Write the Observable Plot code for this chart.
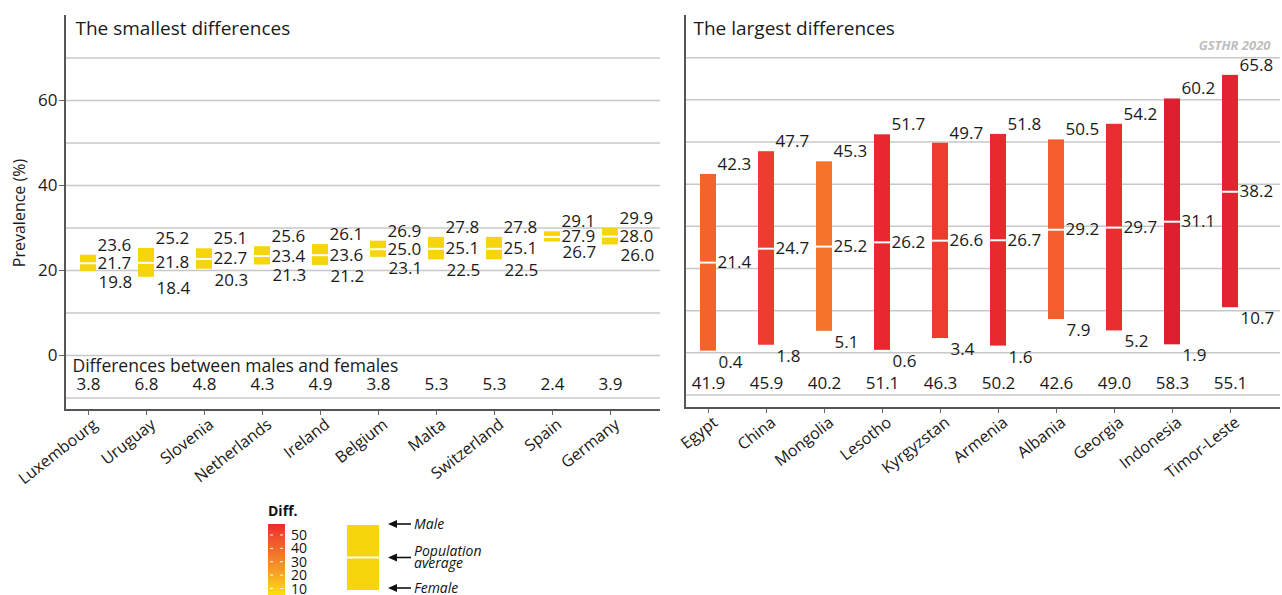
<!DOCTYPE html>
<html><head><meta charset="utf-8">
<script src="https://cdn.jsdelivr.net/npm/d3@7"></script>
<script src="https://cdn.jsdelivr.net/npm/@observablehq/plot@0.6"></script>
<style>
body{margin:0;background:#fff;font-family:"Open Sans",sans-serif;}
#root{position:relative;width:1282px;height:595px;overflow:hidden;background:#fff;}
#left,#right{position:absolute;top:0;}
#left{left:0px}
#right{left:660px}
#legend{position:absolute;left:0;top:0;}
</style></head><body>
<div id="root"><div id="left"></div><div id="right"></div><svg id="legend" width="1282" height="595"></svg></div>
<script>
// ---- data ----
const smallCountries = ["Luxembourg","Uruguay","Slovenia","Netherlands","Ireland","Belgium","Malta","Switzerland","Spain","Germany"];
const smallMale   = [23.6,25.2,25.1,25.6,26.1,26.9,27.8,27.8,29.1,29.9];
const smallAvg    = [21.7,21.8,22.7,23.4,23.6,25.0,25.1,25.1,27.9,28.0];
const smallFemale = [19.8,18.4,20.3,21.3,21.2,23.1,22.5,22.5,26.7,26.0];
const smallDiff   = [3.8,6.8,4.8,4.3,4.9,3.8,5.3,5.3,2.4,3.9];

const largeCountries = ["Egypt","China","Mongolia","Lesotho","Kyrgyzstan","Armenia","Albania","Georgia","Indonesia","Timor-Leste"];
const largeMale   = [42.3,47.7,45.3,51.7,49.7,51.8,50.5,54.2,60.2,65.8];
const largeAvg    = [21.4,24.7,25.2,26.2,26.6,26.7,29.2,29.7,31.1,38.2];
const largeFemale = [0.4,1.8,5.1,0.6,3.4,1.6,7.9,5.2,1.9,10.7];
const largeDiff   = [41.9,45.9,40.2,51.1,46.3,50.2,42.6,49.0,58.3,55.1];

const gridTicks  = [-10,0,10,20,30,40,50,60,70];
const labelTicks = [0,20,40,60];
const legendTicks = [10,20,30,40,50];

// ---- helpers ----
const fmt = d3.format(".1f");
function table(countries, male, avg, female, diff) {
  return countries.map((c,i)=>({country:c, male:male[i], avg:avg[i], female:female[i], diff:diff[i]}));
}
const colorOpts = {
  type:"linear",
  domain:[7,40.2,42.6,46,49,51,55,58.3],
  range:["#F6D50C","#F4742C","#F35E2C","#EE3C2E","#E82E30","#E8272F","#E3232F","#DD1F30"],
  clamp:true
};
const FONT = "'Open Sans', sans-serif";
const TXT = "#1a1a1a";

function panel({data, width, height, marginLeft, marginRight, yDomain, title, titleDx, diffDy, showY, showDiffTitle, showSource}) {
  const n = data.length;
  const step = 58.45, bw = 16;
  const pi = 1 - bw/step, po = 13/step;
  const r0 = marginLeft, r1 = r0 + step*(n - pi + 2*po);
  const marginTop = 15, marginBottom = 90;
  const marks = [
    Plot.ruleY(gridTicks, {stroke:"#c8c8c8", strokeWidth:1.5}),
    Plot.barY(data, {x:"country", y1:"female", y2:"male", fill:"diff"}),
    Plot.tickY(data, {x:"country", y:"avg", stroke:"white", strokeWidth:2}),
    Plot.text(data, {x:"country", y:"male", text:d=>fmt(d.male), dx:9, dy:-10, textAnchor:"start", fill:TXT}),
    Plot.text(data, {x:"country", y:"avg", text:d=>fmt(d.avg), dx:9, textAnchor:"start", fill:TXT}),
    Plot.text(data, {x:"country", y:"female", text:d=>fmt(d.female), dx:10, dy:11, textAnchor:"start", fill:TXT}),
    Plot.text(data, {x:"country", text:d=>fmt(d.diff), frameAnchor:"bottom", dy:diffDy, fill:TXT}),
    Plot.text([title], {frameAnchor:"top-left", dx:titleDx, dy:6, textAnchor:"start", fill:TXT, fontSize:19}),
    Plot.axisX({fill:"none", tickSize:5, stroke:"#666", label:null}),
    Plot.axisX({tickSize:0, tickPadding:0, tickRotate:-38, dx:7, dy:12, fontSize:16, label:null, fill:TXT})
  ];
  if (showDiffTitle) marks.push(Plot.text(["Differences between males and females"], {frameAnchor:"bottom-left", dx:7, dy:-39, textAnchor:"start", fill:TXT, fontSize:17.5}));
  if (showSource) marks.push(Plot.text(["GSTHR 2020"], {frameAnchor:"top-right", dx:-10, dy:25, textAnchor:"end", fill:"#bdbdbd", fontWeight:"bold", fontStyle:"italic", fontSize:13}));
  if (showY) marks.push(Plot.axisY(labelTicks, {label:"Prevalence (%)", labelAnchor:"center", labelOffset:52, labelArrow:"none", tickSize:6, tickPadding:2, fill:TXT, stroke:"#666"}));
  const plot = Plot.plot({
    width, height, marginTop, marginBottom, marginLeft, marginRight,
    style:{fontFamily:FONT, fontSize:"17px", color:TXT, background:"transparent", overflow:"visible"},
    x:{type:"band", domain:data.map(d=>d.country), range:[r0,r1], paddingInner:pi, paddingOuter:po, align:0.5, label:null, axis:null},
    y:{domain:yDomain, label:null, axis:null},
    color:colorOpts,
    marks
  });
  const svg = d3.select(plot);
  svg.selectAll("[aria-label='y-axis label'] text, g[aria-label='y-axis label']").attr("font-size", 16);
  // axis lines along the frame edges
  svg.append("line").attr("x1", marginLeft).attr("x2", marginLeft).attr("y1", marginTop).attr("y2", height - marginBottom + 1)
     .attr("stroke", "#555").attr("stroke-width", 2);
  svg.append("line").attr("x1", marginLeft - 1).attr("x2", width - marginRight).attr("y1", height - marginBottom).attr("y2", height - marginBottom)
     .attr("stroke", "#555").attr("stroke-width", 2);
  return plot;
}

document.getElementById("left").appendChild(panel({
  data: table(smallCountries, smallMale, smallAvg, smallFemale, smallDiff),
  width:660, height:500, marginLeft:65, marginRight:0, yDomain:[-12.94, 80],
  title:"The smallest differences", titleDx:10, diffDy:-21, showY:true, showDiffTitle:true, showSource:false
}));
document.getElementById("right").appendChild(panel({
  data: table(largeCountries, largeMale, largeAvg, largeFemale, largeDiff),
  width:622, height:498, marginLeft:25, marginRight:2, yDomain:[-13.2, 80],
  title:"The largest differences", titleDx:8, diffDy:-20, showY:false, showDiffTitle:false, showSource:true
}));

// ---- legend ----
const lg = d3.select("#legend").style("font-family", FONT);
const defs = lg.append("defs");
const grad = defs.append("linearGradient").attr("id","diffgrad").attr("x1",0).attr("x2",0).attr("y1",0).attr("y2",1);
[[0,"#EC282D"],[0.15,"#EE4A2C"],[0.35,"#F26B2B"],[0.53,"#F48A2A"],[0.72,"#F8AC22"],[0.92,"#FCD414"],[1,"#FFE600"]]
  .forEach(([o,c])=>grad.append("stop").attr("offset",o).attr("stop-color",c));
const ly = d3.scaleLinear([10,50],[588.5,535]);
lg.append("text").attr("x",268).attr("y",516).attr("font-weight","bold").attr("font-size",14).attr("fill","#111").text("Diff.");
lg.append("rect").attr("x",268).attr("y",524).attr("width",17).attr("height",73).attr("fill","url(#diffgrad)");
legendTicks.forEach(t=>{
  lg.append("line").attr("x1",270).attr("x2",273).attr("y1",ly(t)).attr("y2",ly(t)).attr("stroke","#fff").attr("stroke-width",1);
  lg.append("line").attr("x1",280).attr("x2",283).attr("y1",ly(t)).attr("y2",ly(t)).attr("stroke","#fff").attr("stroke-width",1);
  lg.append("text").attr("x",291).attr("y",ly(t)).attr("dy","0.36em").attr("font-size",14).attr("fill","#111").text(t);
});
lg.append("rect").attr("x",347).attr("y",525).attr("width",32).attr("height",65).attr("fill","#F6D50C");
lg.append("line").attr("x1",347).attr("x2",379).attr("y1",557.5).attr("y2",557.5).attr("stroke","#fff").attr("stroke-width",2);
[[524,["Male"]],[557.5,["Population","average"]],[588,["Female"]]].forEach(([yy,lines])=>{
  lg.append("line").attr("x1",394).attr("x2",411).attr("y1",yy).attr("y2",yy).attr("stroke","#111").attr("stroke-width",1.6);
  lg.append("path").attr("d",`M388,${yy}L397,${yy-4}L397,${yy+4}Z`).attr("fill","#111");
  const t = lg.append("text").attr("x",414).attr("font-size",14).attr("font-style","italic").attr("fill","#111");
  if (lines.length === 1) t.attr("y",yy).attr("dy","0.35em").text(lines[0]);
  else {
    t.append("tspan").attr("x",414).attr("y",yy-6).attr("dy","0.35em").text(lines[0]);
    t.append("tspan").attr("x",414).attr("y",yy+6).attr("dy","0.35em").text(lines[1]);
  }
});
</script>
</body></html>
